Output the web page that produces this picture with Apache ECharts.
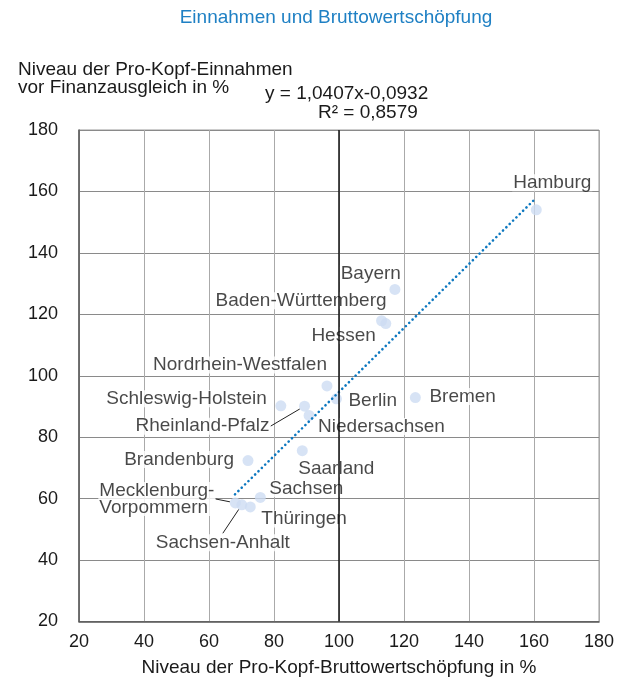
<!DOCTYPE html>
<html style="height: 100%">
<head>
<meta charset="utf-8" />
<title>Einnahmen und Bruttowertschöpfung</title>
<script src="https://cdn.jsdelivr.net/npm/echarts@6/dist/echarts.min.js"></script>
</head>
<body style="height: 100%; margin: 0; background: #fff">
<div id="container" style="width: 621px; height: 682px"></div>
<script type="text/javascript">
// Bundeslaender: Bruttowertschoepfung (x) und Einnahmen (y), je Kopf in % des Durchschnitts
const states = [
  "Hamburg", "Bayern", "Baden-Württemberg", "Hessen", "Nordrhein-Westfalen",
  "Schleswig-Holstein", "Berlin", "Bremen", "Rheinland-Pfalz", "Niedersachsen",
  "Saarland", "Brandenburg", "Sachsen", "Thüringen", "Mecklenburg-\nVorpommern", "Sachsen-Anhalt"
];
const gvaLevel = [160.7, 117.2, 113.1, 114.4, 96.3, 82.1, 99.2, 123.5, 89.4, 90.8, 88.7, 72.0, 75.8, 72.7, 68.1, 70.1];
const revenueLevel = [154.0, 128.1, 117.9, 117.0, 96.7, 90.2, 92.5, 92.9, 90.1, 87.1, 75.6, 72.4, 60.4, 57.3, 58.6, 58.0];

// Trendlinie (Endpunkte)
const trendX = [68, 160];
const trendY = [61.4, 157.2];

const axisTicks = [20, 40, 60, 80, 100, 120, 140, 160, 180];

const FONT = "Liberation Sans";
const INK = "#1a1a1a";

// label placement relative to the dot: [dx, dy, align]
const labelPlacement = {
  "Hamburg": [16, -27, "center"],
  "Bayern": [7, -16, "right"],
  "Baden-Württemberg": [6, -20, "right"],
  "Hessen": [-9, 12, "right"],
  "Nordrhein-Westfalen": [1, -21, "right"],
  "Schleswig-Holstein": [-13, -7, "right"],
  "Berlin": [11, 2, "left"],
  "Bremen": [13, -1, "left"],
  "Rheinland-Pfalz": [-34, 20, "right"],
  "Niedersachsen": [8, 11, "left"],
  "Saarland": [-5, 18, "left"],
  "Brandenburg": [-13, -1, "right"],
  "Sachsen": [8, -9, "left"],
  "Thüringen": [10, 12, "left"],
  "Mecklenburg-\nVorpommern": [-137, -4, "left"],
  "Sachsen-Anhalt": [-19, 38, "center"]
};
const withLeader = ["Rheinland-Pfalz", "Mecklenburg-\nVorpommern", "Sachsen-Anhalt"];

const scatterData = states.map((name, i) => {
  const p = labelPlacement[name];
  const item = {
    name: name,
    value: [gvaLevel[i], revenueLevel[i]],
    label: {
      show: true,
      position: "inside",
      align: p[2],
      verticalAlign: "middle",
      offset: [p[0], p[1]]
    }
  };
  if (withLeader.indexOf(name) >= 0) {
    item.labelLine = { show: true, lineStyle: { color: "#222", width: 1 } };
  }
  return item;
});

const chart = echarts.init(document.getElementById("container"), null, { renderer: "canvas" });

chart.setOption({
  animation: false,
  textStyle: { fontFamily: FONT },
  title: [
    {
      text: "Einnahmen und Bruttowertschöpfung",
      left: 336, top: 7, textAlign: "center", padding: 0,
      textStyle: { color: "#1f80c4", fontSize: 19, fontWeight: "normal", fontFamily: FONT, lineHeight: 22 }
    },
    {
      text: "Niveau der Pro-Kopf-Einnahmen\nvor Finanzausgleich in %",
      left: 18, top: 61, padding: 0,
      textStyle: { color: INK, fontSize: 19, fontWeight: "normal", fontFamily: FONT, lineHeight: 18 }
    },
    {
      text: "y = 1,0407x-0,0932",
      left: 265, top: 85, padding: 0,
      textStyle: { color: INK, fontSize: 19, fontWeight: "normal", fontFamily: FONT, lineHeight: 18 }
    },
    {
      text: "R² = 0,8579",
      left: 318, top: 104, padding: 0,
      textStyle: { color: INK, fontSize: 19, fontWeight: "normal", fontFamily: FONT, lineHeight: 18 }
    }
  ],
  grid: {
    left: 79, right: 22, top: 130, bottom: 56,
    show: true, borderColor: "#9a9a9a", borderWidth: 1
  },
  xAxis: {
    type: "value",
    min: axisTicks[0], max: axisTicks[axisTicks.length - 1], interval: 20,
    name: "Niveau der Pro-Kopf-Bruttowertschöpfung in %",
    nameLocation: "middle", nameGap: 37,
    nameTextStyle: { color: INK, fontSize: 19, fontFamily: FONT, lineHeight: 18 },
    axisLine: { show: true, onZero: false, lineStyle: { color: "#555", width: 1.5 } },
    axisTick: { show: false },
    axisLabel: { color: INK, fontSize: 18, fontFamily: FONT, margin: 12 },
    splitLine: { show: true, lineStyle: { color: "#aaa", width: 1 } }
  },
  yAxis: {
    type: "value",
    min: axisTicks[0], max: axisTicks[axisTicks.length - 1], interval: 20,
    axisLine: { show: true, onZero: false, lineStyle: { color: "#555", width: 1.5 } },
    axisTick: { show: false },
    axisLabel: { color: INK, fontSize: 18, fontFamily: FONT, margin: 21 },
    splitLine: { show: true, lineStyle: { color: "#8a8a8a", width: 1 } }
  },
  series: [
    {
      type: "scatter",
      symbol: "circle",
      symbolSize: 11,
      itemStyle: { color: "#cddcf3" },
      z: 2,
      label: {
        show: true,
        formatter: "{b}",
        color: INK, fontSize: 19, fontFamily: FONT, lineHeight: 17,
        backgroundColor: "#fff", padding: [0, 1]
      },
      data: scatterData,
      markLine: {
        silent: true,
        symbol: "none",
        label: { show: false },
        lineStyle: { color: "#111", type: "solid", width: 1.5 },
        data: [{ xAxis: 100 }]
      }
    },
    {
      type: "line",
      z: 3,
      symbol: "none",
      silent: true,
      lineStyle: { color: "#0d78c0", width: 2.6, type: [0.1, 4.6], cap: "round" },
      data: trendX.map((x, i) => [x, trendY[i]])
    }
  ]
});
</script>
</body>
</html>
